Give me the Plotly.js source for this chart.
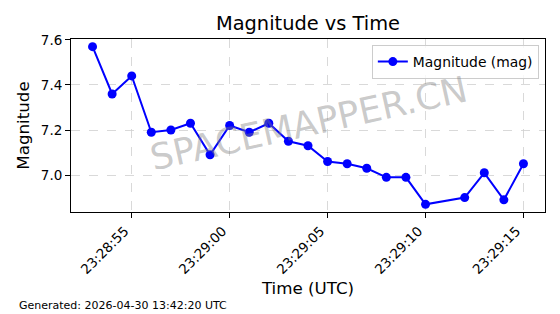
<!DOCTYPE html>
<html><head><meta charset="utf-8">
<script src="https://cdn.plot.ly/plotly-3.0.1.min.js"></script>
<style>body{margin:0;padding:0;background:#fff}#chart{width:560px;height:314px}</style>
</head><body><div id="chart"></div>
<script>
const obsDate = '2026-04-29';
const times = ['23:28:53','23:28:54','23:28:55','23:28:56','23:28:57','23:28:58','23:28:59','23:29:00','23:29:01','23:29:02','23:29:03','23:29:04','23:29:05','23:29:06','23:29:07','23:29:08','23:29:09','23:29:10','23:29:12','23:29:13','23:29:14','23:29:15'];
const magnitudes = [7.57,7.36,7.44,7.19,7.20,7.23,7.09,7.22,7.19,7.23,7.15,7.13,7.06,7.05,7.03,6.99,6.99,6.87,6.90,7.01,6.89,7.05];
const tickTimes = ['23:28:55','23:29:00','23:29:05','23:29:10','23:29:15'];
const yTicks = [7.0,7.2,7.4,7.6];

const x = times.map(t => obsDate + ' ' + t);
const font = 'DejaVu Sans, sans-serif';
const trace = {
  x: x, y: magnitudes, type: 'scatter', mode: 'lines+markers',
  name: 'Magnitude (mag)',
  line: {color: '#0000ff', width: 2},
  marker: {color: '#0000ff', size: 9}
};
const layout = {
  width: 560, height: 314,
  margin: {l: 71, r: 15, t: 39, b: 102},
  paper_bgcolor: '#fff', plot_bgcolor: '#fff',
  font: {family: font, color: '#000'},
  title: {text: 'Magnitude vs Time', font: {size: 19.4, family: font}, xref: 'paper', x: 0.5, xanchor: 'center', yref: 'container', y: 0.925, yanchor: 'middle'},
  xaxis: {
    type: 'date',
    range: [obsDate + ' 23:28:51.9', obsDate + ' 23:29:16.1'],
    tickvals: tickTimes.map(t => obsDate + ' ' + t),
    ticktext: tickTimes,
    tickangle: -45,
    ticklabelshift: -7,
    tickfont: {size: 13.5, family: font},
    showline: true, mirror: true, linecolor: '#000', linewidth: 1,
    ticks: 'outside', ticklen: 5, tickcolor: '#000',
    showgrid: true, gridcolor: '#cfcfcf', griddash: 'dash', gridwidth: 0.8,
    zeroline: false,
    title: {text: 'Time (UTC)', font: {size: 16.7, family: font}, standoff: 6}
  },
  yaxis: {
    range: [6.836, 7.604],
    tickvals: yTicks,
    ticktext: yTicks.map(v => v.toFixed(1)),
    tickfont: {size: 13.5, family: font},
    showline: true, mirror: true, linecolor: '#000', linewidth: 1,
    ticks: 'outside', ticklen: 5, tickcolor: '#000',
    showgrid: true, gridcolor: '#cfcfcf', griddash: 'dash', gridwidth: 0.8,
    zeroline: false,
    title: {text: 'Magnitude', font: {size: 16.7, family: font}, standoff: 6}
  },
  showlegend: true,
  legend: {x: 0.987, y: 0.965, xanchor: 'right', yanchor: 'top',
    bgcolor: 'rgba(255,255,255,0.8)', bordercolor: '#cccccc', borderwidth: 1,
    font: {size: 13.9, family: font}},
  annotations: [
    {text: 'SPACEMAPPER.CN', xref: 'paper', yref: 'paper', x: 0.5, y: 0.514,
     showarrow: false, textangle: -12.5, font: {size: 36, family: font, color: 'rgba(128,128,128,0.42)'}},
    {text: 'Generated: 2026-04-30 13:42:20 UTC', xref: 'paper', yref: 'paper',
     x: -0.114, y: -0.538, xanchor: 'left', yanchor: 'middle', showarrow: false,
     font: {size: 11, family: font, color: '#000'}}
  ]
};
Plotly.newPlot('chart', [trace], layout, {displayModeBar: false, staticPlot: true});
</script></body></html>
